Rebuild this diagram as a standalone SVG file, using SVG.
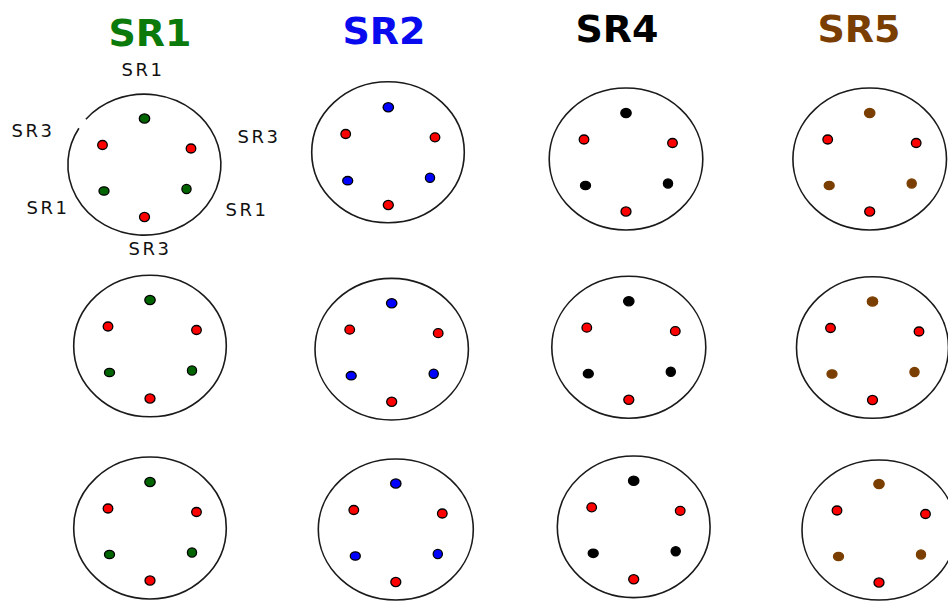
<svg xmlns="http://www.w3.org/2000/svg" width="948" height="601" viewBox="0 0 948 601">
<style>
.title{font-family:"DejaVu Sans",Verdana,sans-serif;font-weight:bold;font-size:38px;text-anchor:middle}
.lbl{font-family:"DejaVu Sans",Verdana,sans-serif;font-size:18px;letter-spacing:2.5px;text-anchor:middle;fill:#111}
.ring{fill:none;stroke:#1a1a1a;stroke-width:1.6}
.d{stroke:#000;stroke-width:1.3}
.r{fill:#ff0000}
.g{fill:#006400}
.b{fill:#0000ff}
.k{fill:#000}
.n{fill:#7a3e00;stroke:#7a3e00}
</style>
<rect width="948" height="601" fill="#fff"/>
<g id="titles">
<text class="title" x="150" y="46" fill="#0b7a0b">SR1</text>
<text class="title" x="384" y="44" fill="#0a0aee">SR2</text>
<text class="title" x="617" y="42" fill="#000">SR4</text>
<text class="title" x="859" y="42" fill="#7a3e00">SR5</text>
</g>
<g id="labels">
<text class="lbl" x="143" y="76">SR1</text>
<text class="lbl" x="33" y="137">SR3</text>
<text class="lbl" x="259" y="143">SR3</text>
<text class="lbl" x="48" y="214">SR1</text>
<text class="lbl" x="247" y="216">SR1</text>
<text class="lbl" x="150" y="255">SR3</text>
</g>
<g id="sr1-1">
<path class="ring" d="M 85.9 119.2 A 76.5 70.5 0 1 1 78.9 128.2"/>
<ellipse class="d g" cx="144.5" cy="118.5" rx="5.2" ry="4.6"/>
<ellipse class="d r" cx="102.5" cy="145" rx="4.8" ry="4.5"/>
<ellipse class="d r" cx="191" cy="148.5" rx="4.8" ry="4.5"/>
<ellipse class="d g" cx="104" cy="191" rx="5" ry="4.2"/>
<ellipse class="d g" cx="186.5" cy="189" rx="4.6" ry="4.6"/>
<ellipse class="d r" cx="144.5" cy="217" rx="5" ry="4.6"/>
</g>
<g id="sr2-1">
<ellipse class="ring" cx="388" cy="152.2" rx="76.3" ry="70.5"/>
<ellipse class="d b" cx="388.3" cy="107.3" rx="5.2" ry="4.6"/>
<ellipse class="d r" cx="345.7" cy="134" rx="4.8" ry="4.5"/>
<ellipse class="d r" cx="435" cy="137.3" rx="4.8" ry="4.5"/>
<ellipse class="d b" cx="347.7" cy="180.7" rx="5" ry="4.2"/>
<ellipse class="d b" cx="430" cy="177.7" rx="4.6" ry="4.6"/>
<ellipse class="d r" cx="388.3" cy="205" rx="5" ry="4.6"/>
</g>
<g id="sr4-1">
<ellipse class="ring" cx="626" cy="159" rx="76.8" ry="71"/>
<ellipse class="d k" cx="626" cy="113" rx="5.2" ry="4.6"/>
<ellipse class="d r" cx="584" cy="139.5" rx="4.8" ry="4.5"/>
<ellipse class="d r" cx="672.5" cy="143" rx="4.8" ry="4.5"/>
<ellipse class="d k" cx="585.5" cy="185.5" rx="5" ry="4.2"/>
<ellipse class="d k" cx="668" cy="183.5" rx="4.6" ry="4.6"/>
<ellipse class="d r" cx="626" cy="211.5" rx="5" ry="4.6"/>
</g>
<g id="sr5-1">
<ellipse class="ring" cx="869.7" cy="159" rx="76.8" ry="71"/>
<ellipse class="d n" cx="869.7" cy="113" rx="5.2" ry="4.6"/>
<ellipse class="d r" cx="827.7" cy="139.5" rx="4.8" ry="4.5"/>
<ellipse class="d r" cx="916.2" cy="143" rx="4.8" ry="4.5"/>
<ellipse class="d n" cx="829.2" cy="185.5" rx="5" ry="4.2"/>
<ellipse class="d n" cx="911.7" cy="183.5" rx="4.6" ry="4.6"/>
<ellipse class="d r" cx="869.7" cy="211.5" rx="5" ry="4.6"/>
</g>
<g id="sr1-2">
<ellipse class="ring" cx="150" cy="346" rx="76.3" ry="70.8"/>
<ellipse class="d g" cx="150" cy="300" rx="5.2" ry="4.6"/>
<ellipse class="d r" cx="108" cy="326.5" rx="4.8" ry="4.5"/>
<ellipse class="d r" cx="196.5" cy="330" rx="4.8" ry="4.5"/>
<ellipse class="d g" cx="109.5" cy="372.5" rx="5" ry="4.2"/>
<ellipse class="d g" cx="192" cy="370.5" rx="4.6" ry="4.6"/>
<ellipse class="d r" cx="150" cy="398.5" rx="5" ry="4.6"/>
</g>
<g id="sr2-2">
<ellipse class="ring" cx="391.7" cy="349.2" rx="76.7" ry="70.8"/>
<ellipse class="d b" cx="391.7" cy="303.2" rx="5.2" ry="4.6"/>
<ellipse class="d r" cx="349.7" cy="329.7" rx="4.8" ry="4.5"/>
<ellipse class="d r" cx="438.2" cy="333.2" rx="4.8" ry="4.5"/>
<ellipse class="d b" cx="351.2" cy="375.7" rx="5" ry="4.2"/>
<ellipse class="d b" cx="433.7" cy="373.7" rx="4.6" ry="4.6"/>
<ellipse class="d r" cx="391.7" cy="401.7" rx="5" ry="4.6"/>
</g>
<g id="sr4-2">
<ellipse class="ring" cx="628.8" cy="347.2" rx="77" ry="71"/>
<ellipse class="d k" cx="628.8" cy="301.2" rx="5.2" ry="4.6"/>
<ellipse class="d r" cx="586.8" cy="327.7" rx="4.8" ry="4.5"/>
<ellipse class="d r" cx="675.3" cy="331.2" rx="4.8" ry="4.5"/>
<ellipse class="d k" cx="588.3" cy="373.7" rx="5" ry="4.2"/>
<ellipse class="d k" cx="670.8" cy="371.7" rx="4.6" ry="4.6"/>
<ellipse class="d r" cx="628.8" cy="399.7" rx="5" ry="4.6"/>
</g>
<g id="sr5-2">
<ellipse class="ring" cx="872.5" cy="347.5" rx="76" ry="70.8"/>
<ellipse class="d n" cx="872.5" cy="301.5" rx="5.2" ry="4.6"/>
<ellipse class="d r" cx="830.5" cy="328" rx="4.8" ry="4.5"/>
<ellipse class="d r" cx="919" cy="331.5" rx="4.8" ry="4.5"/>
<ellipse class="d n" cx="832" cy="374" rx="5" ry="4.2"/>
<ellipse class="d n" cx="914.5" cy="372" rx="4.6" ry="4.6"/>
<ellipse class="d r" cx="872.5" cy="400" rx="5" ry="4.6"/>
</g>
<g id="sr1-3">
<ellipse class="ring" cx="150" cy="528" rx="76.3" ry="71"/>
<ellipse class="d g" cx="150" cy="482" rx="5.2" ry="4.6"/>
<ellipse class="d r" cx="108" cy="508.5" rx="4.8" ry="4.5"/>
<ellipse class="d r" cx="196.5" cy="512" rx="4.8" ry="4.5"/>
<ellipse class="d g" cx="109.5" cy="554.5" rx="5" ry="4.2"/>
<ellipse class="d g" cx="192" cy="552.5" rx="4.6" ry="4.6"/>
<ellipse class="d r" cx="150" cy="580.5" rx="5" ry="4.6"/>
</g>
<g id="sr2-3">
<ellipse class="ring" cx="395.8" cy="529.5" rx="77.5" ry="70.5"/>
<ellipse class="d b" cx="395.8" cy="483.5" rx="5.2" ry="4.6"/>
<ellipse class="d r" cx="353.8" cy="510" rx="4.8" ry="4.5"/>
<ellipse class="d r" cx="442.3" cy="513.5" rx="4.8" ry="4.5"/>
<ellipse class="d b" cx="355.3" cy="556" rx="5" ry="4.2"/>
<ellipse class="d b" cx="437.8" cy="554" rx="4.6" ry="4.6"/>
<ellipse class="d r" cx="395.8" cy="582" rx="5" ry="4.6"/>
</g>
<g id="sr4-3">
<ellipse class="ring" cx="633.7" cy="526.8" rx="76.4" ry="70.8"/>
<ellipse class="d k" cx="633.7" cy="480.8" rx="5.2" ry="4.6"/>
<ellipse class="d r" cx="591.7" cy="507.3" rx="4.8" ry="4.5"/>
<ellipse class="d r" cx="680.2" cy="510.8" rx="4.8" ry="4.5"/>
<ellipse class="d k" cx="593.2" cy="553.3" rx="5" ry="4.2"/>
<ellipse class="d k" cx="675.7" cy="551.3" rx="4.6" ry="4.6"/>
<ellipse class="d r" cx="633.7" cy="579.3" rx="5" ry="4.6"/>
</g>
<g id="sr5-3">
<ellipse class="ring" cx="879" cy="530" rx="77" ry="70"/>
<ellipse class="d n" cx="879" cy="484" rx="5.2" ry="4.6"/>
<ellipse class="d r" cx="837" cy="510.5" rx="4.8" ry="4.5"/>
<ellipse class="d r" cx="925.5" cy="514" rx="4.8" ry="4.5"/>
<ellipse class="d n" cx="838.5" cy="556.5" rx="5" ry="4.2"/>
<ellipse class="d n" cx="921" cy="554.5" rx="4.6" ry="4.6"/>
<ellipse class="d r" cx="879" cy="582.5" rx="5" ry="4.6"/>
</g>
</svg>
